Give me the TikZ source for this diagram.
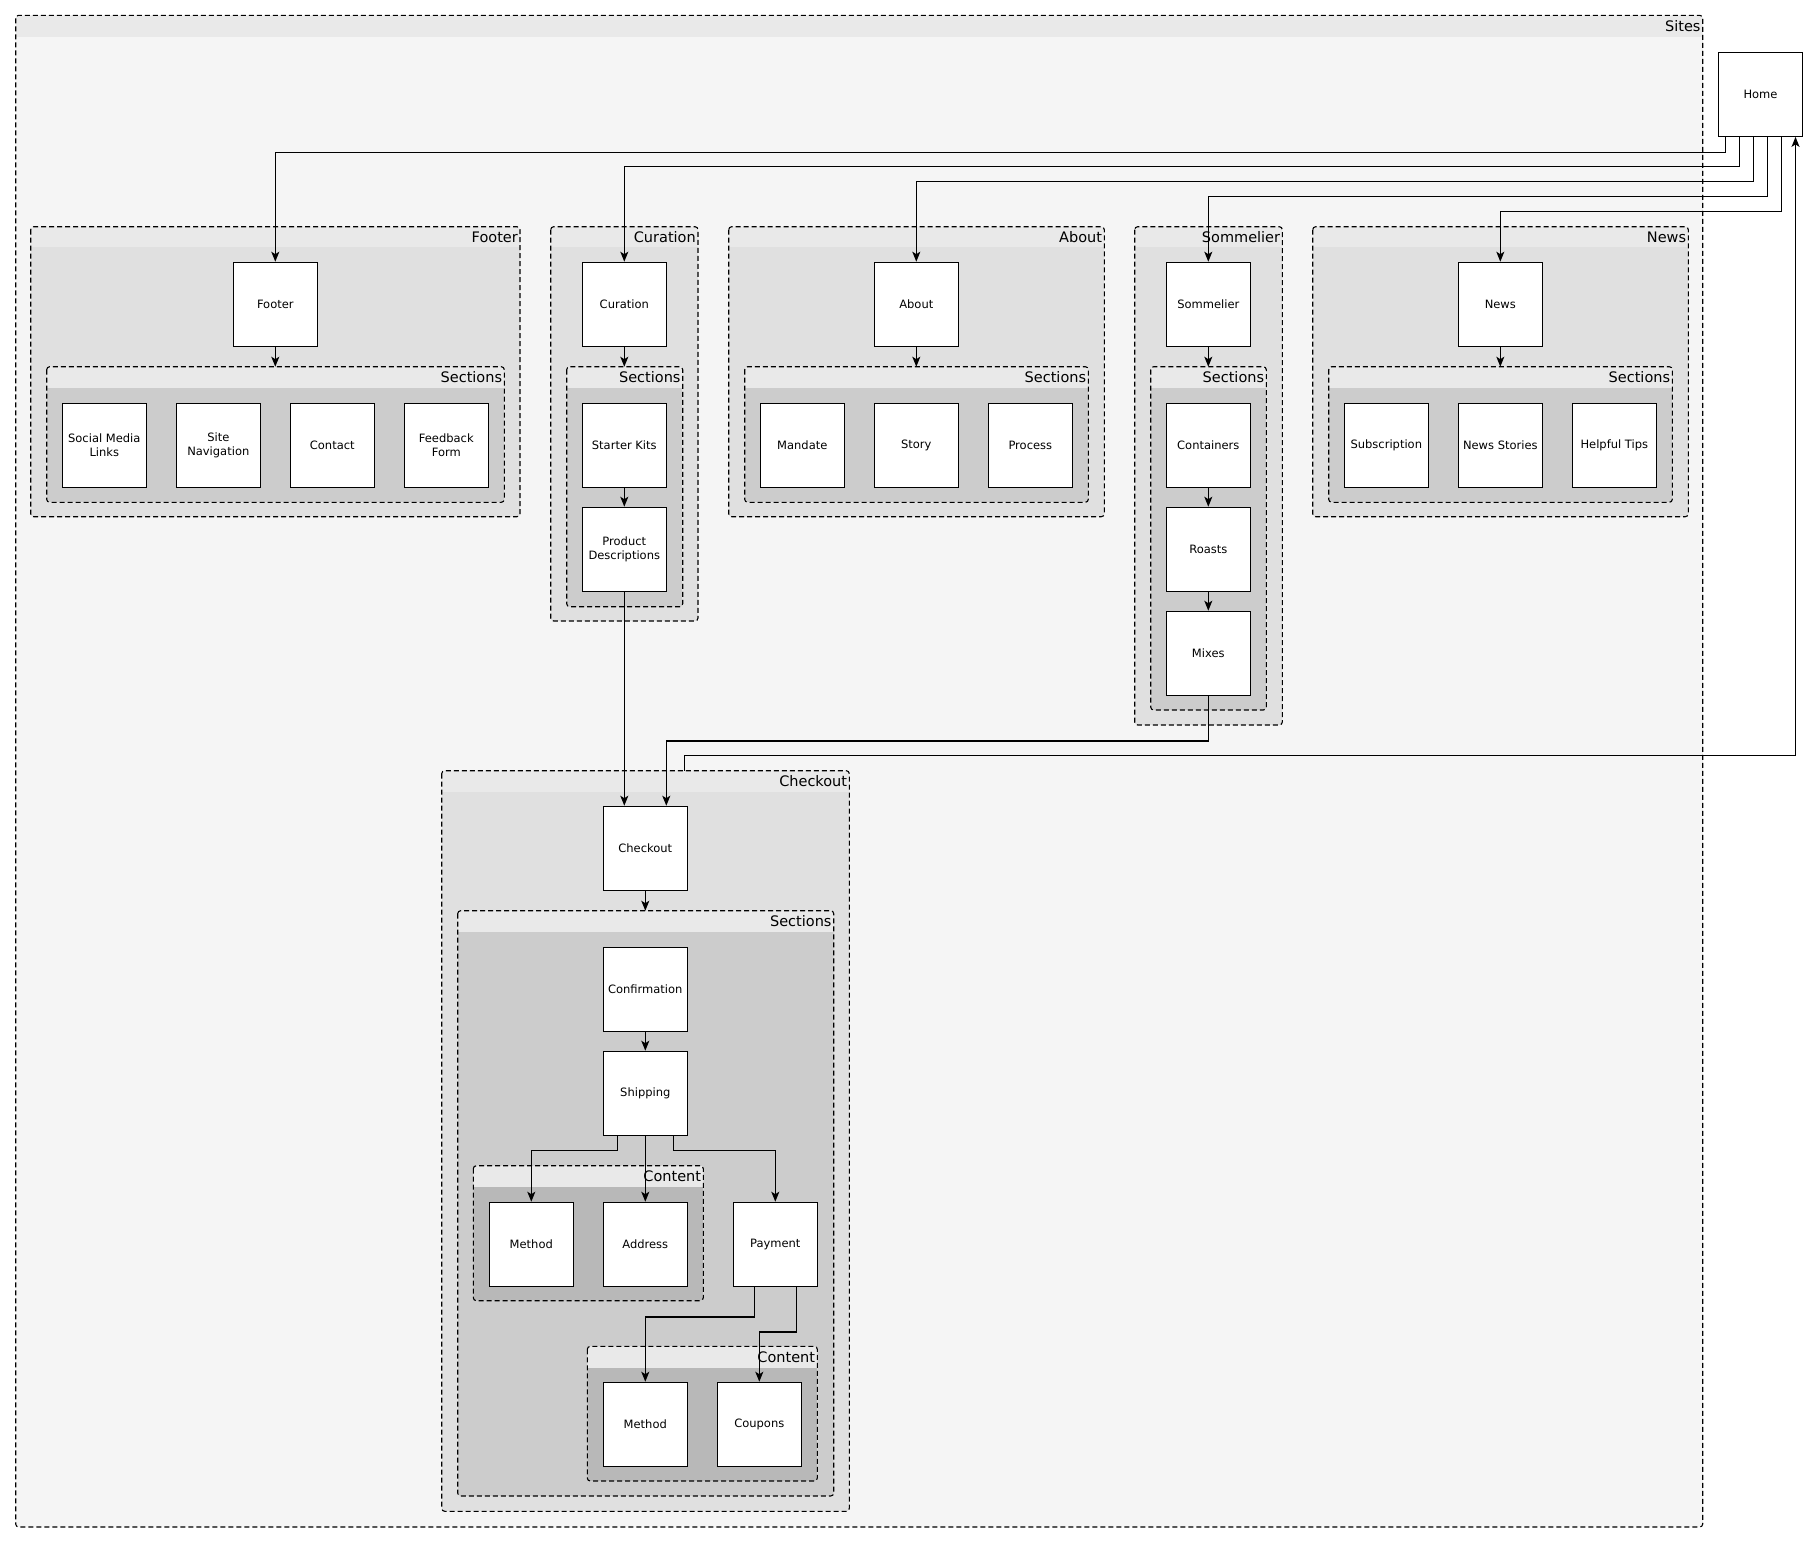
\documentclass[tikz,border=0pt]{standalone}
\usepackage{fontspec}
\setmainfont{DejaVu Sans}
\usetikzlibrary{arrows.meta}
\definecolor{hdrcol}{HTML}{E9E9E9}
\definecolor{sitescol}{HTML}{F5F5F5}
\definecolor{lvlcol}{HTML}{E0E0E0}
\definecolor{seccol}{HTML}{CCCCCC}
\definecolor{concol}{HTML}{B8B8B8}
\newcommand\grp[8]{%
  \path[fill=hdrcol,rounded corners=3pt] (#2,#3) rectangle (#4,#5);
  \begin{scope}
    \clip[rounded corners=3pt] (#2,#3) rectangle (#4,#5);
    \fill[#7] (#2,#6) rectangle (#4,#5);
  \end{scope}
  \draw[grpline,rounded corners=3pt] (#2,#3) rectangle (#4,#5);
  \coordinate (#1-nw) at (#2,#3);
  \coordinate (#1-se) at (#4,#5);
  \node[grptitle,anchor=east] (#1-title) at (#4-2,{(#3+#6)/2}) {#8};
}
\tikzset{
  pg/.style={draw,fill=white,line width=1.2pt,minimum width=84pt,minimum height=84pt,inner sep=0pt,align=center,font=\fontsize{11.5}{14}\selectfont},
  grpline/.style={line width=1.1pt,dash pattern=on 5pt off 3pt},
  grptitle/.style={inner sep=0pt,font=\fontsize{14.5}{17}\selectfont},
  arr/.style={line width=1.2pt,-{Stealth[length=10pt,width=8pt,inset=2.5pt]}},
}
\begin{document}
\begin{tikzpicture}[x=1pt,y=-1pt]
\useasboundingbox[fill=white] (0,0) rectangle (1817,1542);
% outer
\grp{sites}{15.7}{15.3}{1702.7}{1527}{36.7}{sitescol}{Sites}
% footer
\grp{fg}{30.7}{226.7}{520}{516.7}{247.3}{lvlcol}{Footer}
\grp{fs}{46.7}{366.7}{504.3}{502.3}{388.3}{seccol}{Sections}
% curation
\grp{cg}{550.7}{226.7}{698}{621}{247.3}{lvlcol}{Curation}
\grp{cs}{566.7}{366.7}{682.7}{606.7}{388.3}{seccol}{Sections}
% about
\grp{ag}{728.7}{226.7}{1104.3}{516.7}{247.3}{lvlcol}{About}
\grp{as}{744.7}{366.7}{1088.3}{502.3}{388.3}{seccol}{Sections}
% sommelier
\grp{sg}{1134.7}{226.7}{1282.3}{725}{247.3}{lvlcol}{Sommelier}
\grp{ss}{1150.7}{366.7}{1266.3}{710}{388.3}{seccol}{Sections}
% news
\grp{ng}{1312.7}{226.7}{1688.3}{516.7}{247.3}{lvlcol}{News}
\grp{ns}{1328.7}{366.7}{1672.3}{502.3}{388.3}{seccol}{Sections}
% checkout
\grp{kg}{441.7}{770.7}{849.3}{1511.3}{792}{lvlcol}{Checkout}
\grp{ks}{457.7}{910.7}{833.7}{1496}{932.3}{seccol}{Sections}
\grp{kc1}{473.3}{1165.7}{703.3}{1300.7}{1187}{concol}{Content}
\grp{kc2}{587.3}{1346.3}{817.3}{1481}{1367.7}{concol}{Content}

% nodes
\node[pg] (home) at (1760.5,94.3) {Home};
\node[pg] (footer) at (275.3,304.3) {Footer};
\node[pg] (social) at (104.3,445.3) {Social Media\\Links};
\node[pg] (sitenav) at (218.3,445.3) {Site\\Navigation};
\node[pg] (contact) at (332.3,445.3) {Contact};
\node[pg] (feedback) at (446.3,445.3) {Feedback\\Form};

\node[pg] (curation) at (624.3,304.3) {Curation};
\node[pg] (starter) at (624.3,445.3) {Starter Kits};
\node[pg] (proddesc) at (624.3,549.3) {Product\\Descriptions};

\node[pg] (about) at (916.3,304.3) {About};
\node[pg] (mandate) at (802.3,445.3) {Mandate};
\node[pg] (story) at (916.3,445.3) {Story};
\node[pg] (process) at (1030.3,445.3) {Process};

\node[pg] (sommelier) at (1208.3,304.3) {Sommelier};
\node[pg] (containers) at (1208.3,445.3) {Containers};
\node[pg] (roasts) at (1208.3,549.3) {Roasts};
\node[pg] (mixes) at (1208.3,653.3) {Mixes};

\node[pg] (news) at (1500.3,304.3) {News};
\node[pg] (subscr) at (1386.3,445.3) {Subscription};
\node[pg] (stories) at (1500.3,445.3) {News Stories};
\node[pg] (tips) at (1614.3,445.3) {Helpful Tips};

\node[pg] (checkout) at (645.3,848.3) {Checkout};
\node[pg] (confirm) at (645.3,989.3) {Confirmation};
\node[pg] (shipping) at (645.3,1093.3) {Shipping};
\node[pg] (method1) at (531.3,1244.3) {Method};
\node[pg] (address) at (645.3,1244.3) {Address};
\node[pg] (payment) at (775.3,1244.3) {Payment};
\node[pg] (method2) at (645.3,1424.3) {Method};
\node[pg] (coupons) at (759.3,1424.3) {Coupons};

\coordinate (kgout) at (684.3,770.7);

% connectors from home
\draw[arr] ([xshift=-35pt]home.south) -- ++(0,15.2) -| (footer.north);
\draw[arr] ([xshift=-21pt]home.south) -- ++(0,29.6) -| (curation.north);
\draw[arr] ([xshift=-7pt]home.south) -- ++(0,44.8) -| (about.north);
\draw[arr] ([xshift=7pt]home.south) -- ++(0,59.8) -| (sommelier.north);
\draw[arr] ([xshift=21pt]home.south) -- ++(0,74.6) -| (news.north);
\draw[arr] (kgout) -- ++(0,-15.4) -| ([xshift=35pt]home.south);

% inside groups
\draw[arr] (footer) -- (footer |- fs-nw);
\draw[arr] (curation) -- (curation |- cs-nw);
\draw[arr] (about) -- (about |- as-nw);
\draw[arr] (sommelier) -- (sommelier |- ss-nw);
\draw[arr] (news) -- (news |- ns-nw);
\draw[arr] (starter) -- (proddesc);
\draw[arr] (containers) -- (roasts);
\draw[arr] (roasts) -- (mixes);

% to checkout
\draw[arr] (proddesc.south) -- ([xshift=-21pt]checkout.north);
\draw[arr] (mixes.south) -- ++(0,45) -| ([xshift=21pt]checkout.north);

\draw[arr] (checkout) -- (checkout |- ks-nw);
\draw[arr] (confirm) -- (shipping);
\draw[arr] ([xshift=-28pt]shipping.south) -- ++(0,14.7) -| (method1.north);
\draw[arr] (shipping) -- (address);
\draw[arr] ([xshift=28pt]shipping.south) -- ++(0,14.7) -| (payment.north);
\draw[arr] ([xshift=-21pt]payment.south) -- ++(0,30) -| (method2.north);
\draw[arr] ([xshift=21pt]payment.south) -- ++(0,45) -| (coupons.north);
\end{tikzpicture}
\end{document}
